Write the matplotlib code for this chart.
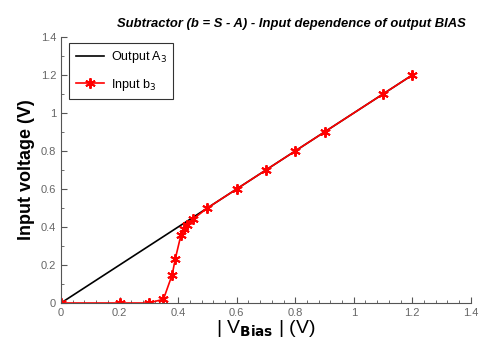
import matplotlib
matplotlib.use("Agg")
import matplotlib.pyplot as plt
from matplotlib.ticker import MultipleLocator

out_x = [0.0, 1.2]
out_y = [0.0, 1.2]

in_x = [0.0, 0.2, 0.3, 0.35, 0.38, 0.39, 0.41, 0.42, 0.43, 0.45, 0.5, 0.6, 0.7, 0.8, 0.9, 1.1, 1.2]
in_y = [0.0, 0.0, 0.0, 0.02, 0.15, 0.23, 0.36, 0.39, 0.41, 0.44, 0.5, 0.6, 0.7, 0.8, 0.9, 1.1, 1.2]

xticks = [0, 0.2, 0.4, 0.6, 0.8, 1, 1.2, 1.4]
yticks = [0, 0.2, 0.4, 0.6, 0.8, 1, 1.2, 1.4]

plt.rcParams['font.family'] = ['Liberation Sans', 'DejaVu Sans']

fig = plt.figure(figsize=(4.81, 3.49), dpi=100)
ax = fig.add_axes([0.1268, 0.1318, 0.979 - 0.1268, 0.894 - 0.1318])

ax.plot(out_x, out_y, color='black', lw=1.2, label='Output A$_3$')
ax.plot(in_x, in_y, color='red', lw=1.2, marker=(6, 2, 0), markersize=7.5,
        markeredgewidth=1.4, label='Input b$_3$')

ax.set_xlim(0, 1.4)
ax.set_ylim(0, 1.4)
ax.set_xticks(xticks)
ax.set_yticks(yticks)
ax.set_xticklabels(['0', '0.2', '0.4', '0.6', '0.8', '1', '1.2', '1.4'])
ax.set_yticklabels(['0', '0.2', '0.4', '0.6', '0.8', '1', '1.2', '1.4'])
ax.xaxis.set_minor_locator(MultipleLocator(0.04))
ax.yaxis.set_minor_locator(MultipleLocator(0.1))
ax.tick_params(which='both', direction='in', colors='#555555', labelsize=8, labelcolor='#666666')
ax.tick_params(which='major', length=4)
ax.tick_params(which='minor', length=2.5)
ax.spines['top'].set_visible(False)
ax.spines['right'].set_visible(False)
for s in ['left', 'bottom']:
    ax.spines[s].set_color('#555555')

ax.set_title('Subtractor (b = S - A) - Input dependence of output BIAS',
             fontsize=9.4, fontweight='bold', fontstyle='italic', pad=7, x=0.563)
ax.set_ylabel('Input voltage (V)', fontsize=13, fontweight='bold', labelpad=4)
ax.set_xlabel(r'| V$_{\mathbf{Bias}}$ | (V)', fontsize=14, labelpad=0)

leg = ax.legend(loc='upper left', fontsize=9, frameon=True, fancybox=False,
                edgecolor='black', handlelength=2.3, handletextpad=0.5, borderpad=0.5,
                labelspacing=0.9, bbox_to_anchor=(0.005, 1.0))
leg.get_frame().set_linewidth(0.8)

fig.savefig('out.png', dpi=100)
